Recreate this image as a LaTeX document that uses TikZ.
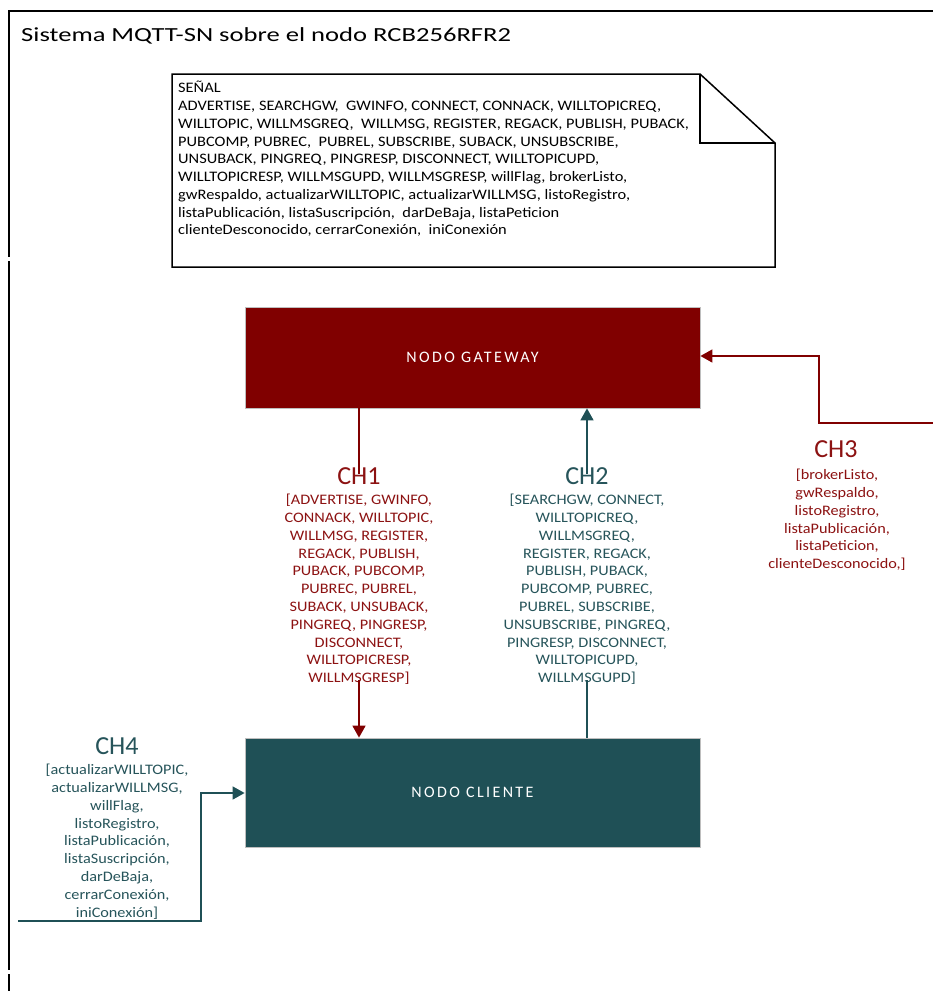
\documentclass[tikz,border=0pt]{standalone}
\usepackage{fontspec}
\setmainfont{Carlito}
\usetikzlibrary{arrows.meta}
\definecolor{gwred}{RGB}{128,0,0}
\definecolor{gwtext}{RGB}{140,18,18}
\definecolor{clteal}{RGB}{31,80,86}
\definecolor{cltext}{RGB}{38,84,90}
\definecolor{boxedge}{RGB}{190,190,190}
\tikzset{
  nodebox/.style={rectangle, draw=boxedge, line width=0.8pt, minimum width=455pt,
    text=white, font=\fontsize{16}{18}\selectfont\addfontfeatures{LetterSpace=15}},
  chtitle/.style={font=\fontsize{26}{30}\selectfont, inner sep=0pt},
  chlist/.style={font=\fontsize{14.5}{17.8}\selectfont\addfontfeatures{FakeStretch=1.12}, align=center, inner sep=0pt},
  redline/.style={draw=gwred, line width=1.6pt},
  tealline/.style={draw=clteal, line width=1.6pt},
  tip/.style={-{Triangle[length=12pt,width=13pt]}},
  frame/.style={draw=black, line width=1.3pt},
}
\begin{document}
\begin{tikzpicture}[x=1pt,y=-1pt]
\useasboundingbox (0,0) rectangle (933,991);

% outer frame
\draw[frame] (933,11) -- (9,11) -- (9,257);
\draw[frame] (9,261) -- (9,970);
\draw[frame] (9,974) -- (9,991);
\node[anchor=west, inner sep=0pt, font=\fontsize{20}{24}\selectfont\addfontfeatures{FakeStretch=1.33}] (title) at (21,36) {Sistema MQTT-SN sobre el nodo RCB256RFR2};

% signal note
\draw[line width=1.5pt, fill=white] (172,74) -- (700,74) -- (775,143) -- (775,267) -- (172,267) -- cycle;
\draw[line width=1.5pt] (700,74) -- (700,143) -- (775,143);
\node[anchor=north west, inner sep=0pt, align=left, font=\fontsize{14.5}{17.75}\selectfont\addfontfeatures{FakeStretch=1.13}] (signals) at (178,81) {%
SEÑAL\\
ADVERTISE, SEARCHGW, \ GWINFO, CONNECT, CONNACK, WILLTOPICREQ,\\
WILLTOPIC, WILLMSGREQ, \ WILLMSG, REGISTER, REGACK, PUBLISH, PUBACK,\\
PUBCOMP, PUBREC, \ PUBREL, SUBSCRIBE, SUBACK, UNSUBSCRIBE,\\
UNSUBACK, PINGREQ, PINGRESP, DISCONNECT, WILLTOPICUPD,\\
WILLTOPICRESP, WILLMSGUPD, WILLMSGRESP, willFlag, brokerListo,\\
gwRespaldo, actualizarWILLTOPIC, actualizarWILLMSG, listoRegistro,\\
listaPublicación, listaSuscripción, \ darDeBaja, listaPeticion\\
clienteDesconocido, cerrarConexión, \ iniConexión};

% nodes
\node[nodebox, fill=gwred, minimum height=101pt] (gw) at (472.5,357.5) {NODO GATEWAY};
\node[nodebox, fill=clteal, minimum height=109pt] (cl) at (472.5,792.5) {NODO CLIENTE};

% channel labels
\node[chtitle, text=gwtext, anchor=north] (ch1) at (359,467) {CH1};
\node[chlist, text=gwtext, anchor=north] (ch1l) at (359,494) {[ADVERTISE, GWINFO,\\CONNACK, WILLTOPIC,\\WILLMSG, REGISTER,\\REGACK, PUBLISH,\\PUBACK, PUBCOMP,\\PUBREC, PUBREL,\\SUBACK, UNSUBACK,\\PINGREQ, PINGRESP,\\DISCONNECT,\\WILLTOPICRESP,\\WILLMSGRESP]};

\node[chtitle, text=cltext, anchor=north] (ch2) at (587,467) {CH2};
\node[chlist, text=cltext, anchor=north] (ch2l) at (587,494) {[SEARCHGW, CONNECT,\\WILLTOPICREQ,\\WILLMSGREQ,\\REGISTER, REGACK,\\PUBLISH, PUBACK,\\PUBCOMP, PUBREC,\\PUBREL, SUBSCRIBE,\\UNSUBSCRIBE, PINGREQ,\\PINGRESP, DISCONNECT,\\WILLTOPICUPD,\\WILLMSGUPD]};

\node[chtitle, text=gwtext, anchor=north] (ch3) at (836,440) {CH3};
\node[chlist, text=gwtext, anchor=north] (ch3l) at (837,469) {[brokerListo,\\gwRespaldo,\\listoRegistro,\\listaPublicación,\\listaPeticion,\\clienteDesconocido,]};

\node[chtitle, text=cltext, anchor=north] (ch4) at (117,737) {CH4};
\node[chlist, text=cltext, anchor=north] (ch4l) at (117,764) {[actualizarWILLTOPIC,\\actualizarWILLMSG,\\willFlag,\\listoRegistro,\\listaPublicación,\\listaSuscripción,\\darDeBaja,\\cerrarConexión,\\iniConexión]};

% channel connectors
\coordinate (ch3in) at (933,423);
\coordinate (ch4in) at (18,921);
\draw[redline] (gw.south -| ch1.north) -- ([yshift=-7pt]ch1.north);
\draw[redline, tip] ([yshift=5pt]ch1l.south) -- (cl.north -| ch1l.south);
\draw[tealline] (cl.north -| ch2l.south) -- ([yshift=5pt]ch2l.south);
\draw[tealline, tip] ([yshift=-7pt]ch2.north) -- (gw.south -| ch2.north);
\draw[redline, tip] (ch3in) -| (819,356) -- (gw.east |- 0,356);
\draw[tealline, tip] (ch4in) -| (201,793) -- (cl.west |- 0,793);
\end{tikzpicture}
\end{document}
